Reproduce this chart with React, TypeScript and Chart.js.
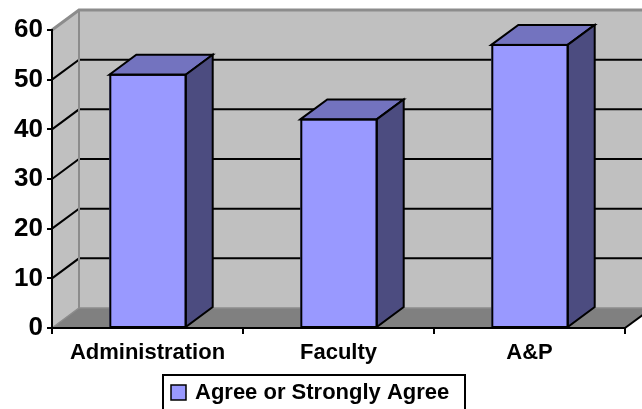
import React, { useEffect, useRef } from "react";
import { Chart, registerables } from "chart.js";

Chart.register(...registerables);

const categories = ["Administration", "Faculty", "A&P"];
const seriesLabel = "Agree or Strongly Agree";
const agreeValues = [51, 42, 57];
const yMin = 0;
const yMax = 60;
const yStep = 10;

const FONT = "'Liberation Sans', Arial, Helvetica, sans-serif";
const DX = 27;
const DY = -20;
const FRONT = "#9999FF";
const TOP = "#7373BF";
const SIDE = "#4C4C80";

const threeD = {
  id: "threeD",
  beforeDraw(chart: any) {
    const { ctx, chartArea } = chart;
    const ys = chart.scales.y;
    const L = chartArea.left;
    const R = chartArea.right;
    const T = ys.getPixelForValue(yMax);
    const B = ys.getPixelForValue(yMin);
    ctx.save();
    // back wall
    ctx.fillStyle = "#C0C0C0";
    ctx.fillRect(L + DX, T + DY, R - L + 10, B - T);
    // left wall
    ctx.beginPath();
    ctx.moveTo(L, T);
    ctx.lineTo(L + DX, T + DY);
    ctx.lineTo(L + DX, B + DY);
    ctx.lineTo(L, B);
    ctx.closePath();
    ctx.fill();
    // floor
    ctx.fillStyle = "#808080";
    ctx.beginPath();
    ctx.moveTo(L, B);
    ctx.lineTo(L + DX, B + DY);
    ctx.lineTo(R + DX, B + DY);
    ctx.lineTo(R, B);
    ctx.closePath();
    ctx.fill();
    // grid lines from the y scale ticks
    ys.ticks.forEach((t: any) => {
      const y = ys.getPixelForValue(t.value);
      const edge = t.value === yMin || t.value === yMax;
      ctx.strokeStyle = edge ? "#8C8C8C" : "#000000";
      ctx.lineWidth = t.value === yMax ? 3 : 2;
      if (t.value === yMin) ctx.lineWidth = 1.5;
      ctx.beginPath();
      ctx.moveTo(L, y);
      ctx.lineTo(L + DX, y + DY);
      ctx.lineTo(R + DX + 10, y + DY);
      ctx.stroke();
    });
    // back vertical edge
    ctx.strokeStyle = "#8C8C8C";
    ctx.lineWidth = 2;
    ctx.beginPath();
    ctx.moveTo(L + DX, T + DY);
    ctx.lineTo(L + DX, B + DY);
    ctx.stroke();
    ctx.restore();
  },
  afterDatasetsDraw(chart: any) {
    const { ctx } = chart;
    const meta = chart.getDatasetMeta(0);
    ctx.save();
    ctx.lineWidth = 2;
    ctx.strokeStyle = "#000000";
    ctx.lineJoin = "miter";
    meta.data.forEach((bar: any) => {
      const p = bar.getProps(["x", "y", "base", "width"], true);
      const l = p.x - p.width / 2;
      const r = p.x + p.width / 2;
      const top = p.y;
      const base = p.base;
      // top face
      ctx.fillStyle = TOP;
      ctx.beginPath();
      ctx.moveTo(l, top);
      ctx.lineTo(l + DX, top + DY);
      ctx.lineTo(r + DX, top + DY);
      ctx.lineTo(r, top);
      ctx.closePath();
      ctx.fill();
      ctx.stroke();
      // side face
      ctx.fillStyle = SIDE;
      ctx.beginPath();
      ctx.moveTo(r, top);
      ctx.lineTo(r + DX, top + DY);
      ctx.lineTo(r + DX, base + DY);
      ctx.lineTo(r, base);
      ctx.closePath();
      ctx.fill();
      ctx.stroke();
      // front outline
      ctx.strokeRect(l + 1, top, r - l - 1, base - top);
    });
    ctx.restore();
  },
  afterDraw(chart: any) {
    const { ctx, chartArea } = chart;
    const ys = chart.scales.y;
    const B = ys.getPixelForValue(yMin);
    const R = chartArea.right;
    ctx.save();
    // floor right edge
    ctx.strokeStyle = "#000000";
    ctx.lineWidth = 2;
    ctx.beginPath();
    ctx.moveTo(R, B);
    ctx.lineTo(R + DX, B + DY);
    ctx.stroke();
    // legend
    const ds = chart.data.datasets[0];
    ctx.lineWidth = 2;
    ctx.strokeRect(163, 375, 302, 40);
    ctx.fillStyle = ds.backgroundColor;
    ctx.fillRect(171, 385, 15, 15);
    ctx.lineWidth = 1.5;
    ctx.strokeRect(171, 385, 15, 15);
    ctx.fillStyle = "#000000";
    ctx.font = `bold 22px ${FONT}`;
    ctx.textBaseline = "alphabetic";
    ctx.textAlign = "left";
    ctx.fillText(ds.label, 195, 399);
    ctx.restore();
  },
};

export default function App() {
  const ref = useRef<HTMLCanvasElement | null>(null);
  useEffect(() => {
    if (!ref.current) return;
    const chart = new Chart(ref.current, {
      type: "bar",
      data: {
        labels: categories,
        datasets: [
          {
            label: seriesLabel,
            data: agreeValues,
            backgroundColor: FRONT,
            borderColor: "#000000",
            borderWidth: 0,
            categoryPercentage: 1,
            barPercentage: 0.4,
          },
        ],
      },
      options: {
        animation: false,
        responsive: false,
        maintainAspectRatio: false,
        devicePixelRatio: 1,
        layout: { padding: { left: 0, right: 17, top: 30, bottom: 0 } },
        plugins: {
          legend: { display: false },
          tooltip: { enabled: false },
          title: { display: false },
        },
        scales: {
          x: {
            type: "category",
            grid: {
              offset: true,
              drawOnChartArea: false,
              drawTicks: true,
              tickLength: 6,
              color: "#000000",
              lineWidth: 2,
            },
            border: { display: true, color: "#000000", width: 2 },
            ticks: {
              color: "#000000",
              font: { family: FONT, size: 22, weight: "bold" },
              padding: 6,
              maxRotation: 0,
              autoSkip: false,
            },
            afterFit: (s: any) => {
              s.height = 81;
            },
          },
          y: {
            type: "linear",
            min: yMin,
            max: yMax,
            grid: {
              drawOnChartArea: false,
              drawTicks: true,
              tickLength: 5,
              color: "#000000",
              lineWidth: 2,
            },
            border: { display: true, color: "#000000", width: 2 },
            ticks: {
              stepSize: yStep,
              color: "#000000",
              font: { family: FONT, size: 26, weight: "bold" },
              padding: 4,
            },
            afterFit: (s: any) => {
              s.width = 52;
            },
          },
        },
      },
      plugins: [threeD],
    });
    return () => chart.destroy();
  }, []);
  return (
    <div style={{ position: "fixed", left: 0, top: 0, width: 642, height: 409, background: "#FFFFFF" }}>
      <canvas ref={ref} width={642} height={409} style={{ width: 642, height: 409, display: "block" }} />
    </div>
  );
}
